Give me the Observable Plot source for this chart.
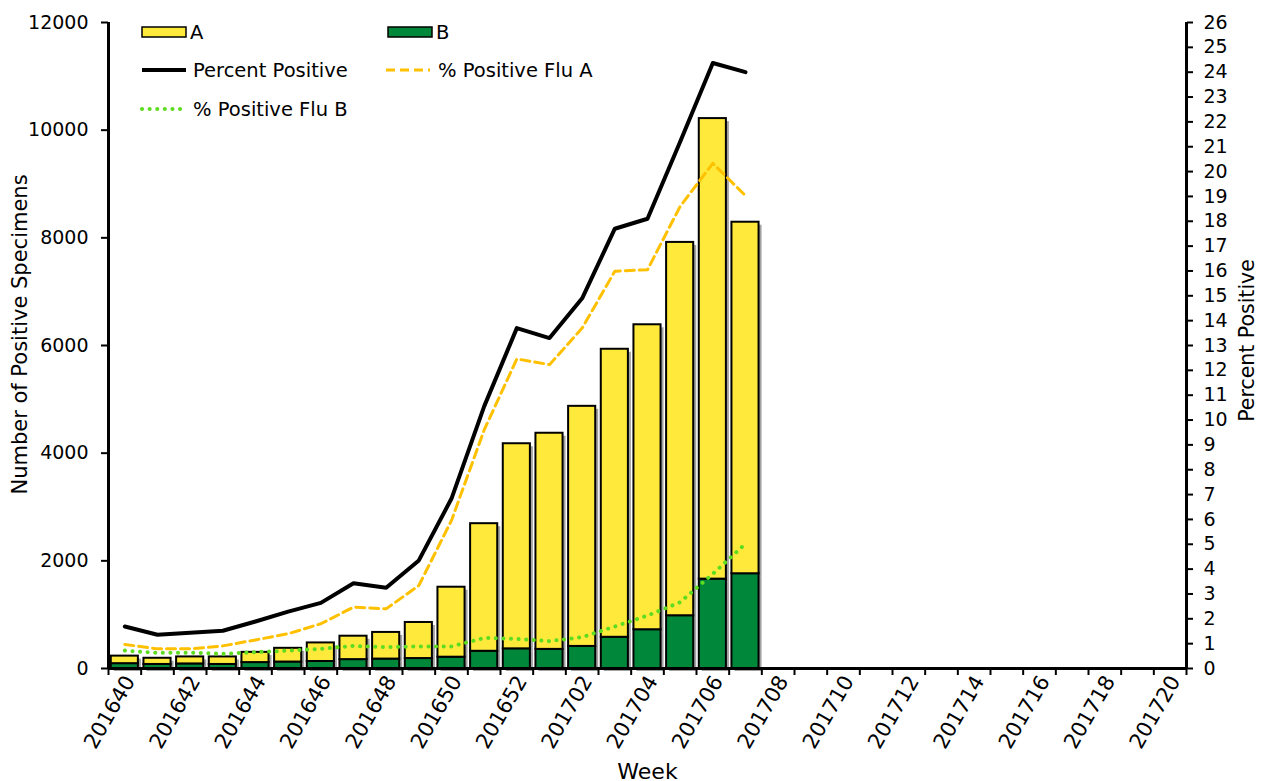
<!DOCTYPE html>
<html>
<head>
<meta charset="utf-8">
<script src="https://cdn.jsdelivr.net/npm/d3@7"></script>
<script src="https://cdn.jsdelivr.net/npm/@observablehq/plot@0.6"></script>
<style>
  html, body { margin: 0; padding: 0; background: white; }
  #chart svg { display: block; }
  #chart svg [aria-label="y-axis tick label"] text { font-size: 19px; }
  #chart svg [aria-label="x-axis tick label"] text { font-size: 21px; }
</style>
</head>
<body>
<div id="chart"></div>
<script>
// Weeks on the x axis
const weeks = [
  "201640","201641","201642","201643","201644","201645","201646","201647","201648","201649",
  "201650","201651","201652",
  "201701","201702","201703","201704","201705","201706","201707","201708","201709","201710",
  "201711","201712","201713","201714","201715","201716","201717","201718","201719","201720"
];
// Weeks with data
const dataWeeks = weeks.slice(0, 20);
// Number of positive specimens
const fluA = [140,115,130,140,190,255,345,435,495,670,1300,2370,3810,4015,4460,5350,5665,6935,8555,6530];
const fluB = [90,75,85,75,110,120,130,165,175,185,210,320,365,355,410,580,720,980,1660,1760];
// Percent positive
const pctPositive = [1.69,1.36,1.44,1.52,1.89,2.29,2.64,3.43,3.25,4.35,6.84,10.55,13.7,13.3,14.9,17.7,18.1,21.2,24.37,24.0];
const pctFluA = [0.97,0.79,0.79,0.91,1.15,1.4,1.8,2.47,2.4,3.34,5.96,9.6,12.46,12.23,13.7,15.99,16.05,18.6,20.33,19.03];
const pctFluB = [0.72,0.63,0.64,0.59,0.66,0.72,0.79,0.91,0.86,0.89,0.89,1.23,1.19,1.1,1.26,1.69,2.13,2.67,3.81,5.02];
// Axis ticks
const leftTicks = [0,2000,4000,6000,8000,10000,12000];
const rightTicks = d3.range(0, 27);
const xTickLabels = weeks.filter((d, i) => i % 2 === 0);
// Titles
const xTitle = "Week";
const yLeftTitle = "Number of Positive Specimens";
const yRightTitle = "Percent Positive";

const W = 1264, H = 781, ML = 108, MR = 78, MT = 22, MB = 113;
const step = (W - ML - MR) / weeks.length;
const K = 12000 / 26; // percent -> count units for right axis

const stacked = [];
dataWeeks.forEach((w, i) => {
  stacked.push({week: w, type: "B", value: fluB[i]});
  stacked.push({week: w, type: "A", value: fluA[i]});
});
const lines = dataWeeks.map((w, i) => ({week: w, p: pctPositive[i], a: pctFluA[i], b: pctFluB[i]}));

const plot = Plot.plot({
  width: W, height: H,
  marginLeft: ML, marginRight: MR, marginTop: MT, marginBottom: MB,
  style: {fontFamily: "DejaVu Sans", fontSize: "18px", color: "black", background: "white", overflow: "visible"},
  x: {type: "band", domain: weeks, paddingInner: 0.17, paddingOuter: 0.085, round: false},
  y: {domain: [0, 12000]},
  color: {domain: ["A", "B"], range: ["#FFE93B", "#00873A"]},
  marks: [
    Plot.barY(stacked, {x: "week", y: "value", z: "type", fill: "#555", fillOpacity: 0.55, dx: 3, dy: 3}),
    Plot.barY(stacked, {x: "week", y: "value", z: "type", fill: "type", stroke: "black", strokeWidth: 2}),
    Plot.line(lines, {x: "week", y: d => d.b * K, stroke: "#5EDC1F", strokeWidth: 4, strokeDasharray: "0.1,7.5", strokeLinecap: "round"}),
    Plot.line(lines, {x: "week", y: d => d.a * K, stroke: "#FFC000", strokeWidth: 3, strokeDasharray: "9,5"}),
    Plot.line(lines, {x: "week", y: d => d.p * K, stroke: "black", strokeWidth: 4}),
    // x tick marks at band boundaries
    Plot.ruleX(weeks, {x: d => d, dx: -step / 2, y1: 0, y2: -130, stroke: "black", strokeWidth: 2}),
    Plot.ruleX([weeks[weeks.length - 1]], {x: d => d, dx: step / 2, y1: 0, y2: -130, stroke: "black", strokeWidth: 2}),
    Plot.axisX(xTickLabels, {tickSize: 0, tickRotate: -60, tickPadding: 9, dx: 5, label: null}),
    Plot.ruleY([0], {stroke: "black", strokeWidth: 3}),
    Plot.axisY(leftTicks, {anchor: "left", tickSize: 7, tickPadding: 13, tickFormat: d => String(d), strokeWidth: 2, label: null}),
    Plot.axisY(rightTicks.map(v => v * K), {anchor: "right", tickSize: 6, tickPadding: 11, tickFormat: d => String(Math.round(d / K)), strokeWidth: 2, label: null}),
    Plot.ruleX([weeks[0]], {x: d => d, dx: -step / 2, y1: 0, y2: 12000, stroke: "black", strokeWidth: 3}),
    Plot.ruleX([weeks[weeks.length - 1]], {x: d => d, dx: step / 2, y1: 0, y2: 12000, stroke: "black", strokeWidth: 3}),
    // axis titles
    Plot.text([xTitle], {frameAnchor: "bottom", dy: 110, lineAnchor: "bottom", textAnchor: "middle", fontSize: 22, fill: "black"}),
    Plot.text([yLeftTitle], {frameAnchor: "left", rotate: -90, dx: -96, dy: -11, lineAnchor: "top", textAnchor: "middle", fontSize: 21, fill: "black"}),
    Plot.text([yRightTitle], {frameAnchor: "right", rotate: -90, dx: 67, dy: -5, lineAnchor: "bottom", textAnchor: "middle", fontSize: 20.5, fill: "black"})
  ]
});

// Legend inside the plot area
const svg = d3.select(plot);
const lg = svg.append("g").attr("font-family", "DejaVu Sans").attr("font-size", 19.5).attr("fill", "black").attr("text-anchor", "start");
const legendItems = [
  {label: "A", kind: "rect", color: "#FFE93B", x: 142, y: 32},
  {label: "B", kind: "rect", color: "#00873A", x: 388, y: 32},
  {label: "Percent Positive", kind: "solid", color: "black", x: 142, y: 70},
  {label: "% Positive Flu A", kind: "dash", color: "#FFC000", x: 386, y: 70},
  {label: "% Positive Flu B", kind: "dot", color: "#5EDC1F", x: 142, y: 109}
];
legendItems.forEach(it => {
  if (it.kind === "rect") {
    lg.append("rect").attr("x", it.x).attr("y", it.y - 5).attr("width", 44).attr("height", 10)
      .attr("fill", it.color).attr("stroke", "black").attr("stroke-width", 1.5);
    lg.append("text").attr("x", it.x + 48).attr("y", it.y + 7).attr("text-anchor", "start").text(it.label);
  } else {
    const l = lg.append("line").attr("x1", it.x).attr("x2", it.x + 44).attr("y1", it.y).attr("y2", it.y).attr("stroke", it.color);
    if (it.kind === "solid") l.attr("stroke-width", 4);
    if (it.kind === "dash") l.attr("stroke-width", 3).attr("stroke-dasharray", "9,5");
    if (it.kind === "dot") l.attr("stroke-width", 4).attr("stroke-dasharray", "0.1,7.5").attr("stroke-linecap", "round");
    lg.append("text").attr("x", it.x + (it.kind === "dash" ? 52 : 51)).attr("y", it.y + 7).attr("text-anchor", "start").text(it.label);
  }
});

document.getElementById("chart").appendChild(plot);
</script>
</body>
</html>
